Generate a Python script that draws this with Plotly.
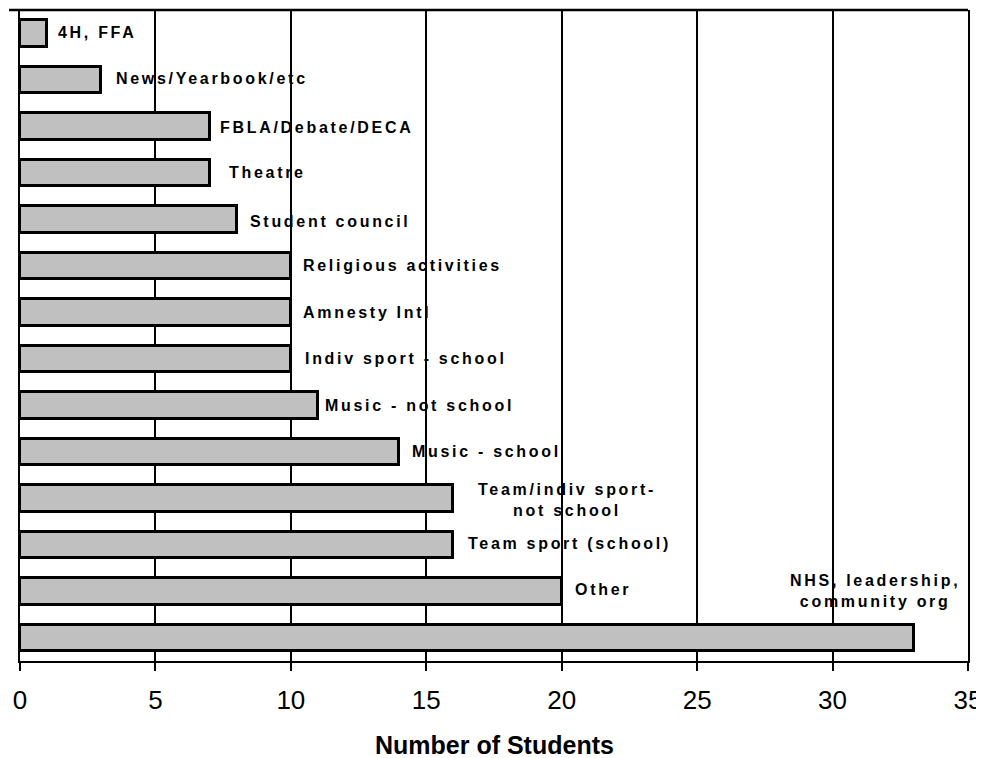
import plotly.graph_objects as go

# Data (top to bottom as shown)
activities = [
    "4H, FFA", "News/Yearbook/etc", "FBLA/Debate/DECA", "Theatre", "Student council",
    "Religious activities", "Amnesty Intl", "Indiv sport - school", "Music - not school",
    "Music - school", "Team/indiv sport-<br>not school", "Team sport (school)", "Other",
    "NHS, leadership,<br>community org",
]
students = [1, 3, 7, 7, 8, 10, 10, 10, 11, 14, 16, 16, 20, 33]
x_ticks = [0, 5, 10, 15, 20, 25, 30, 35]
x_title = "Number of Students"

# Label placement tweaks (pixels): (xanchor, xshift, yshift)
label_pos = [
    ("left", 9, 1), ("left", 13, 1), ("left", 8, -1), ("left", 17, 0), ("left", 11, -2),
    ("left", 10, 0), ("left", 10, 0), ("left", 12, 0), ("left", 5, 0),
    ("left", 11, 0), ("center", 114, -2), ("left", 13, 1), ("left", 11, 2),
    ("center", -39, 47),
]

FONT = "Arial, 'Liberation Sans', sans-serif"
LS = "letter-spacing:2.7px"

fig = go.Figure()
fig.add_trace(go.Bar(
    x=students, y=activities, orientation="h",
    marker=dict(color="#C0C0C0", line=dict(color="black", width=3)),
    width=0.57, hoverinfo="skip",
))

for name, val, (anc, xs, ys) in zip(activities, students, label_pos):
    lines = name.split("<br>")
    txt = "<br>".join(f"<span style='{LS}'>{ln}</span>" for ln in lines)
    fig.add_annotation(
        x=val, y=name, xref="x", yref="y", text=txt, showarrow=False,
        xanchor=anc, yanchor="middle", xshift=xs, yshift=ys, align="center",
        font=dict(family=FONT, size=16, color="black", weight="bold"),
    )

fig.add_annotation(
    x=0.5, y=-84 / 651, xref="paper", yref="paper", text=x_title, showarrow=False,
    xanchor="center", yanchor="middle",
    font=dict(family=FONT, size=25, color="black", weight="bold"),
)

# Top border line extending slightly left of the plot
fig.add_shape(type="line", xref="paper", yref="paper", x0=-11 / 951, x1=1, y0=1, y1=1,
              line=dict(color="black", width=2.5))

fig.update_layout(
    width=976, height=750,
    margin=dict(l=12, r=13, t=2, b=97),
    paper_bgcolor="white", plot_bgcolor="white",
    showlegend=False, bargap=0,
    font=dict(family=FONT, color="black"),
)
fig.update_xaxes(
    range=[0, 35], tickvals=x_ticks, ticks="outside", ticklen=8, tickwidth=1.5,
    tickcolor="black", showline=True, linecolor="black", linewidth=1.5,
    showgrid=True, gridcolor="black", gridwidth=1.5, zeroline=False,
    tickfont=dict(family=FONT, size=26, color="black"),
    ticklabeloverflow="allow", ticklabelstandoff=7,
)
fig.update_yaxes(
    range=[13.5, -0.5], showticklabels=False, ticks="", showline=True, mirror=True,
    linecolor="black", linewidth=1.5, showgrid=False, zeroline=False,
    categoryorder="array", categoryarray=activities,
)

fig.write_html("out.html")
